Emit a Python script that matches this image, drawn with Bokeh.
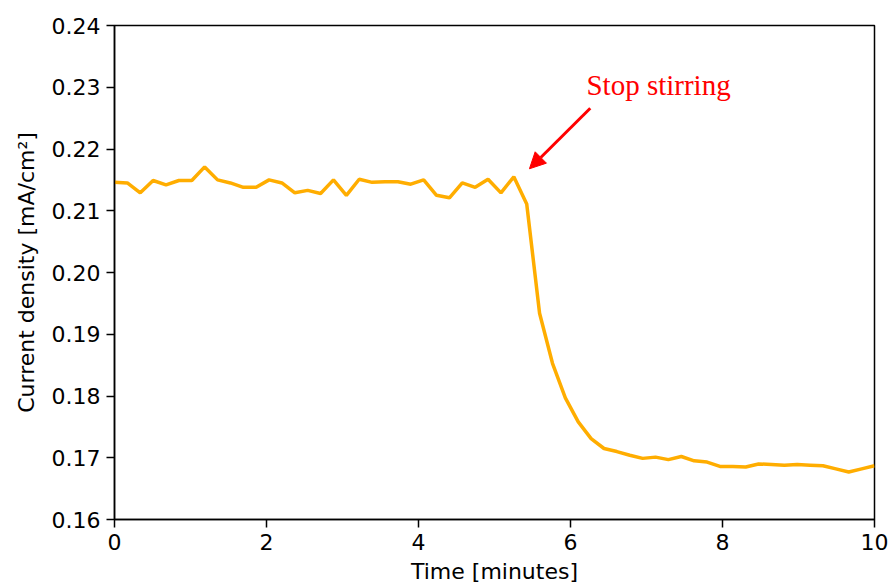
from bokeh.plotting import figure
from bokeh.models import Range1d, FixedTicker, PrintfTickFormatter, Arrow, NormalHead, Label
from bokeh.embed import file_html
from bokeh.resources import INLINE

# Data (60 samples over 10 minutes)
time_min = [0.000, 0.169, 0.339, 0.508, 0.678, 0.847, 1.017, 1.186, 1.356, 1.525,
            1.695, 1.864, 2.034, 2.203, 2.373, 2.542, 2.712, 2.881, 3.051, 3.220,
            3.390, 3.559, 3.729, 3.898, 4.068, 4.237, 4.407, 4.576, 4.746, 4.915,
            5.085, 5.254, 5.424, 5.593, 5.763, 5.932, 6.102, 6.271, 6.441, 6.610,
            6.780, 6.949, 7.119, 7.288, 7.458, 7.627, 7.797, 7.966, 8.136, 8.305,
            8.475, 8.644, 8.814, 8.983, 9.153, 9.322, 9.492, 9.661, 9.831, 10.000]
current = [0.2146, 0.2145, 0.2129, 0.2149, 0.2142, 0.2149, 0.2149, 0.2171, 0.2150, 0.2145,
           0.2138, 0.2138, 0.2150, 0.2145, 0.2129, 0.2133, 0.2128, 0.2150, 0.2125, 0.2151,
           0.2146, 0.2147, 0.2147, 0.2143, 0.2150, 0.2125, 0.2121, 0.2145, 0.2138, 0.2151,
           0.2129, 0.2155, 0.2111, 0.1934, 0.1853, 0.1797, 0.1758, 0.1731, 0.1715, 0.1710,
           0.1704, 0.1699, 0.1701, 0.1697, 0.1702, 0.1695, 0.1693, 0.1686, 0.1686, 0.1685,
           0.1690, 0.1689, 0.1688, 0.1689, 0.1688, 0.1687, 0.1682, 0.1677, 0.1682, 0.1687]

x_ticks = [0, 2, 4, 6, 8, 10]
y_ticks = [0.16, 0.17, 0.18, 0.19, 0.20, 0.21, 0.22, 0.23, 0.24]

annot_text = "Stop stirring"
arrow_tip = (5.46, 0.2168)
arrow_tail = (6.26, 0.2266)
text_pos = (6.21, 0.2304)

p = figure(width=892, height=588, output_backend="svg", toolbar_location=None,
           x_range=Range1d(0, 10), y_range=Range1d(0.16, 0.24),
           min_border_left=114, min_border_right=18, min_border_top=25, min_border_bottom=69)

p.line(time_min, current, line_color="#FFAD00", line_width=3.5)

p.add_layout(Arrow(end=NormalHead(size=16, fill_color="red", line_color="red", line_width=1),
                   x_start=arrow_tail[0], y_start=arrow_tail[1],
                   x_end=arrow_tip[0], y_end=arrow_tip[1],
                   line_color="red", line_width=3))
p.add_layout(Label(x=text_pos[0], y=text_pos[1], text=annot_text, text_color="red",
                   text_font="Liberation Serif", text_font_size="29px",
                   text_baseline="alphabetic", text_align="left"))

p.xgrid.visible = False
p.ygrid.visible = False
p.outline_line_color = "black"
p.outline_line_width = 1.5
p.outline_line_alpha = 1.0

for ax in (p.xaxis[0], p.yaxis[0]):
    ax.axis_line_color = "black"
    ax.axis_line_width = 1.5
    ax.major_tick_line_color = "black"
    ax.major_tick_line_width = 1.5
    ax.major_tick_out = 8
    ax.major_tick_in = 0
    ax.minor_tick_line_color = None
    ax.major_label_text_font = "DejaVu Sans"
    ax.major_label_text_font_size = "22px"
    ax.major_label_text_color = "black"
    ax.axis_label_text_font = "DejaVu Sans"
    ax.axis_label_text_font_size = "22px"
    ax.axis_label_text_font_style = "normal"
    ax.axis_label_text_color = "black"

p.xaxis.ticker = FixedTicker(ticks=x_ticks)
p.yaxis.ticker = FixedTicker(ticks=y_ticks)
p.yaxis.formatter = PrintfTickFormatter(format="%.2f")
p.xaxis.formatter = PrintfTickFormatter(format="%d")
p.xaxis.axis_label = "Time [minutes]"
p.yaxis.axis_label = "Current density [mA/cm²]"
p.xaxis.major_label_standoff = 6
p.yaxis.major_label_standoff = 6
p.xaxis.axis_label_standoff = 6
p.yaxis.axis_label_standoff = 10

open("out.html", "w").write(file_html(p, INLINE))
